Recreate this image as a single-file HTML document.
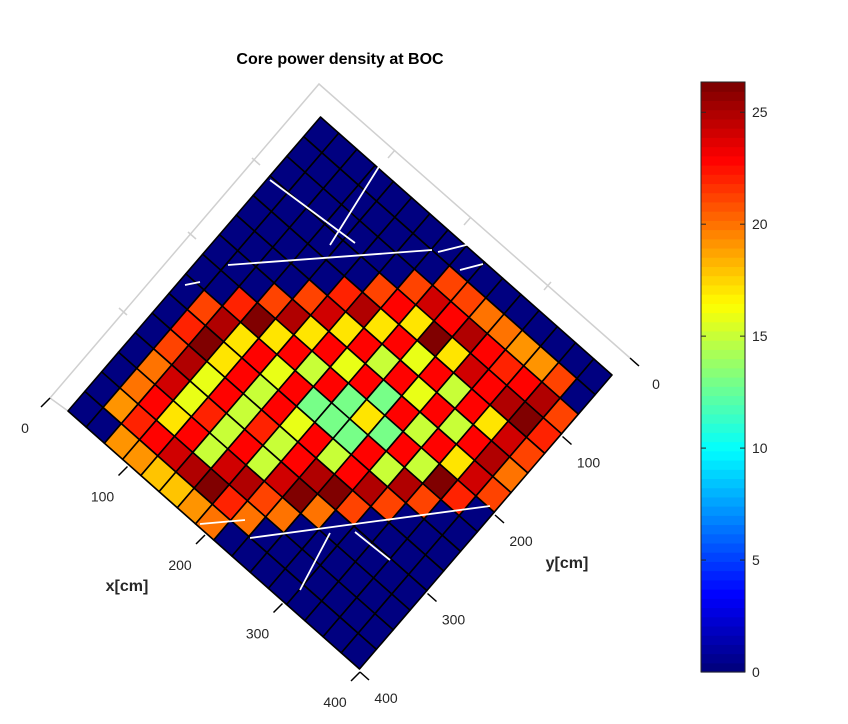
<!DOCTYPE html>
<html><head><meta charset="utf-8"><style>
body{margin:0;background:#fff;}
svg text{font-family:"Liberation Sans",sans-serif;}
</style></head><body>
<svg id="chart" width="848" height="719" viewBox="0 0 848 719" xmlns="http://www.w3.org/2000/svg">
<text x="340" y="64" text-anchor="middle" font-size="16" font-weight="bold" fill="#000">Core power density at BOC</text>
<g id="backbox"></g>
<g id="cells"></g>
<g id="overlay"></g>
<g id="axes"></g>
<g id="cbar"></g>
</svg>
<script>
// values per row j (y index), listed from first colored x index
const rowStart = [0,8,7,6,5,4,3,2,1,1,1,1,1,1,2];
const rowValues = [
 [],
 [21,21,20,20,19,19,21],
 [21,24,23,25,23,22,23,25,21],
 [21,23,17,26,17,24,23,25,26,22],
 [22,25,17,23,16,23,15,23,17,24,21],
 [21,24,17,23,15,23,16,23,15,23,25,20],
 [21,25,17,23,16,23,13,23,15,23,17,24,21],
 [22,26,17,23,15,23,13,17,13,23,15,26,22],
 [21,25,17,23,16,23,13,13,13,23,15,25,21],
 [22,26,17,23,15,23,16,23,15,23,25,21],
 [21,25,16,23,15,22,15,23,25,26,21],
 [20,24,16,22,15,23,15,24,26,20],
 [20,23,17,23,15,24,25,21,20],
 [19,22,23,24,25,26,22,20],
 [19,19,18,18,19,20]
];
const NX = 16, NY = 15;
const xTicks = [0,100,200,300,400];
const yTicks = [0,100,200,300,400];
const cbTicks = [0,5,10,15,20,25];
const cMax = 26.35;

const NS = "http://www.w3.org/2000/svg";
function mk(tag, attrs, parent){const e=document.createElementNS(NS,tag);for(const k in attrs)e.setAttribute(k,attrs[k]);parent.appendChild(e);return e;}
function jet(v){
  let t=Math.max(0,Math.min(1,v/cMax));
  t=Math.floor(t*63.999)/63;
  const c=x=>Math.round(255*Math.max(0,Math.min(1,x)));
  return `rgb(${c(1.5-Math.abs(4*t-3))},${c(1.5-Math.abs(4*t-2))},${c(1.5-Math.abs(4*t-1))})`;
}
const T=[320.5,117], R=[612,375], L=[68,411];
const ax=[(R[0]-T[0])/NX,(R[1]-T[1])/NX], ay=[(L[0]-T[0])/NY,(L[1]-T[1])/NY];
function P(i,j){return [T[0]+i*ax[0]+j*ay[0], T[1]+i*ax[1]+j*ay[1]];}

// back box
const bb=document.getElementById('backbox');
const G0=[50,398], GT=[319,84], GR=[630,358];
let el=mk('polyline',{points:`${L[0]},${L[1]} ${G0[0]},${G0[1]} ${GT[0]},${GT[1]} ${GR[0]},${GR[1]}`,fill:'none',stroke:'#d0d0d0','stroke-width':1.5},bb);


[[252,158],[188,232],[119,308]].forEach(p=>{const s=mk('line',{x1:p[0],y1:p[1],x2:p[0]+8,y2:p[1]+7,stroke:'#d0d0d0','stroke-width':1.5},bb);

});
[[395,150],[471,217],[551,282]].forEach(p=>{const s=mk('line',{x1:p[0],y1:p[1],x2:p[0]-7,y2:p[1]+8,stroke:'#d0d0d0','stroke-width':1.5},bb);

});

// cells
const cg=document.getElementById('cells');
for(let j=0;j<NY;j++)for(let i=0;i<NX;i++){
  const k=i-rowStart[j];
  const v=(j>0 && k>=0 && k<rowValues[j].length)?rowValues[j][k]:0;
  const a=P(i,j),b=P(i+1,j),c=P(i+1,j+1),d=P(i,j+1);
  const poly=mk('polygon',{points:`${a} ${b} ${c} ${d}`,fill:jet(v),stroke:'#000','stroke-width':1.6,'stroke-linejoin':'round'},cg);
  
  
}
// white overlay lines
const ov=document.getElementById('overlay');
[[270,180,355,243],[380,165,330,245],[228,265,432,250],[185,285,200,282],[438,252,470,244],[483,264,460,270],[200,524,245,520],[250,538,490,506],[355,532,390,560],[330,533,300,590]].forEach(s=>{
 const l=mk('line',{x1:s[0],y1:s[1],x2:s[2],y2:s[3],stroke:'#fff','stroke-width':1.8},ov);
 
 
});

// axes
const axg=document.getElementById('axes');
const X0=[50,398], XE=[360,672], Y0=[630,358], YE=[360,672];
xTicks.forEach((t,n)=>{
 const f=t/400, p=[X0[0]+f*(XE[0]-X0[0]), X0[1]+f*(XE[1]-X0[1])];
 const l=mk('line',{x1:p[0],y1:p[1],x2:p[0]-9,y2:p[1]+9,stroke:'#000','stroke-width':1.5},axg);
 
 
 const tx=mk('text',{x:p[0]-25,y:p[1]+35,'text-anchor':'middle','font-size':14,fill:'#262626'},axg);
 tx.textContent=t;
 
 
});
yTicks.forEach((t,n)=>{
 const f=t/400, p=[Y0[0]+f*(YE[0]-Y0[0]), Y0[1]+f*(YE[1]-Y0[1])];
 const l=mk('line',{x1:p[0],y1:p[1],x2:p[0]+9,y2:p[1]+8,stroke:'#000','stroke-width':1.5},axg);
 
 
 const tx=mk('text',{x:p[0]+26,y:p[1]+31,'text-anchor':'middle','font-size':14,fill:'#262626'},axg);
 tx.textContent=t;
 
 
});
let xl=mk('text',{x:127,y:591,'text-anchor':'middle','font-size':16,'font-weight':'bold',fill:'#262626'},axg);
xl.textContent='x[cm]';


let yl=mk('text',{x:567,y:568,'text-anchor':'middle','font-size':16,'font-weight':'bold',fill:'#262626'},axg);
yl.textContent='y[cm]';



// colorbar
const cb=document.getElementById('cbar');
const cbX=701, cbW=44, cbTop=82, cbBot=672;
for(let s=0;s<64;s++){
 const v0=s/64*cMax, v1=(s+1)/64*cMax;
 const y0=cbBot-(v1/cMax)*(cbBot-cbTop), y1=cbBot-(v0/cMax)*(cbBot-cbTop);
 const r=mk('rect',{x:cbX,y:y0,width:cbW,height:y1-y0+0.6,fill:jet((s+0.5)/64*cMax)},cb);
 
 
}
let fr=mk('rect',{x:cbX,y:cbTop,width:cbW,height:cbBot-cbTop,fill:'none',stroke:'#262626','stroke-width':1},cb);


cbTicks.forEach(t=>{
 const y=cbBot-(t/cMax)*(cbBot-cbTop);
 const a=mk('line',{x1:cbX,y1:y,x2:cbX+5,y2:y,stroke:'#262626','stroke-width':1},cb);
 
 
 const b=mk('line',{x1:cbX+cbW-5,y1:y,x2:cbX+cbW,y2:y,stroke:'#262626','stroke-width':1},cb);
 
 
 const tx=mk('text',{x:752,y:y+5,'font-size':14,fill:'#262626'},cb);
 tx.textContent=t;
 
 
});
</script>
</body></html>
